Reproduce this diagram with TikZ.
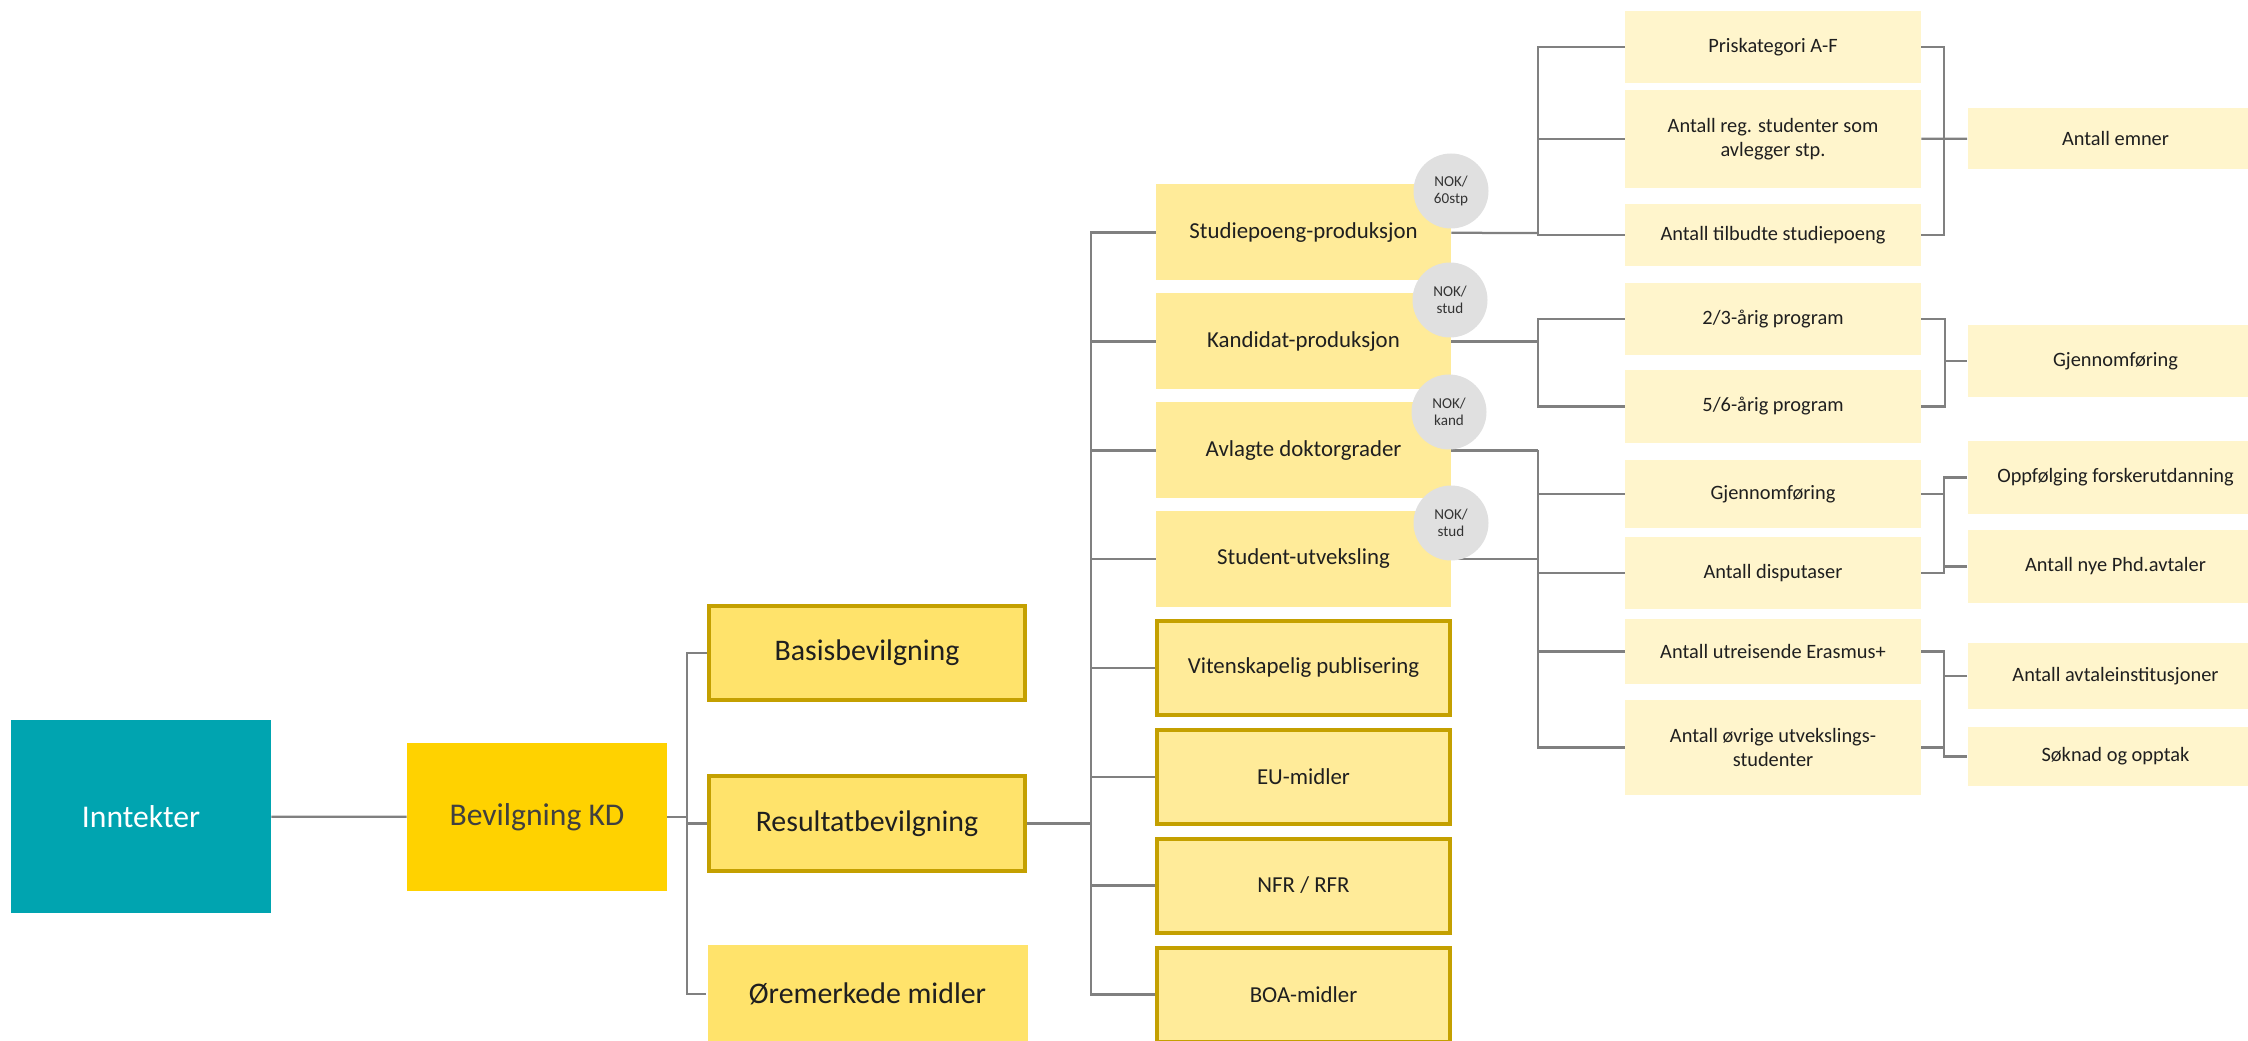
\documentclass[tikz,border=0pt]{standalone}
\usepackage{fontspec}
\setmainfont{Carlito}
\usepackage{tikz}
\usepackage{xcolor}

\definecolor{inntekt}{RGB}{0,164,176}
\definecolor{kdgul}{RGB}{255,210,0}
\definecolor{gul}{RGB}{255,227,107}
\definecolor{lysgul}{RGB}{255,235,153}
\definecolor{blek}{RGB}{255,245,204}
\definecolor{kant}{RGB}{196,160,0}
\definecolor{linje}{RGB}{128,128,128}
\definecolor{sirkel}{RGB}{224,224,224}

\begin{document}
\begin{tikzpicture}[x=0.2mm,y=-0.2mm,
	strek/.style={draw=linje,line width=0.45mm},
	boks/.style={inner sep=0pt,align=center,text=black!88},
	topp/.style={boks,minimum width=52mm,font=\fontsize{18}{21}\selectfont},
	niva/.style={boks,fill=gul,draw=kant,line width=0.8mm,minimum width=63.2mm,minimum height=18.8mm,font=\fontsize{17}{20}\selectfont},
	ledd/.style={boks,fill=lysgul,minimum width=59mm,minimum height=19.2mm,font=\fontsize{13}{15}\selectfont},
	ramme/.style={draw=kant,line width=0.8mm,minimum width=58.6mm,minimum height=18.8mm},
	faktor/.style={boks,fill=blek,minimum width=59.2mm,font=\fontsize{11.6}{13.4}\selectfont},
	sats/.style={circle,fill=sirkel,minimum size=15mm,inner sep=0pt,align=center,text=black!80,font=\fontsize{8.6}{9.4}\selectfont}]
	\useasboundingbox (0,0) rectangle (2248,1041);
	\clip (0,0) rectangle (2248,1041);

	\node[topp,fill=inntekt,text=white,minimum height=38.6mm] (inn) at (141,816.5) {Inntekter};
	\node[topp,fill=kdgul,text=black!75,minimum height=29.6mm] (kd) at (537,817) {Bevilgning KD};

	\node[niva] (basis) at (867,653) {Basisbevilgning};
	\node[niva] (res) at (867,823.5) {Resultatbevilgning};
	\node[niva,draw=none,minimum width=64mm,minimum height=19.6mm] (ore) at (867.5,994) {Øremerkede midler};

	\node[ledd] (stp) at (1303.5,232.5) {Studiepoeng-produksjon};
	\node[ledd] (kand) at (1303.5,341.5) {Kandidat-produksjon};
	\node[ledd] (dr) at (1303.5,450.5) {Avlagte doktorgrader};
	\node[ledd] (utv) at (1303.5,559) {Student-utveksling};
	\node[ledd,ramme] (pub) at (1303.5,668) {Vitenskapelig publisering};
	\node[ledd,ramme] (eu) at (1303.5,777) {EU-midler};
	\node[ledd,ramme] (nfr) at (1303.5,885.5) {NFR / RFR};
	\node[ledd,ramme] (boa) at (1303.5,994.5) {BOA-midler};

	\node[faktor,minimum height=14.4mm] (pris) at (1773,47) {Priskategori A-F};
	\node[faktor,minimum height=19.6mm] (reg) at (1773,139) {Antall reg. studenter som\\avlegger stp.};
	\node[faktor,minimum height=12.4mm] (tilb) at (1773,235) {Antall tilbudte studiepoeng};
	\node[faktor,minimum height=14.4mm] (ar23) at (1773,319) {2/3-årig program};
	\node[faktor,minimum height=14.6mm] (ar56) at (1773,406.5) {5/6-årig program};
	\node[faktor,minimum height=13.6mm] (gjf) at (1773,494) {Gjennomføring};
	\node[faktor,minimum height=14.4mm] (disp) at (1773,573) {Antall disputaser};
	\node[faktor,minimum height=13mm] (eras) at (1773,651.5) {Antall utreisende Erasmus+};
	\node[faktor,minimum height=19mm] (ovr) at (1773,747.5) {Antall øvrige utvekslings-\\studenter};

	\node[faktor,minimum height=12.2mm] (emner) at (2115.5,138.5) {Antall emner};
	\node[faktor,minimum height=14.4mm] (gjf2) at (2115.5,361) {Gjennomføring};
	\node[faktor,minimum height=14.6mm] (opp) at (2115.5,477.5) {Oppfølging forskerutdanning};
	\node[faktor,minimum height=14.6mm] (phd) at (2115.5,566.5) {Antall nye Phd.avtaler};
	\node[faktor,minimum height=13.2mm] (avt) at (2115.5,676) {Antall avtaleinstitusjoner};
	\node[faktor,minimum height=11.8mm] (sok) at (2115.5,756.5) {Søknad og opptak};

	\coordinate (k1) at (687,817);
	\coordinate (k2) at (1091,823.5);
	\coordinate (k3) at (1538,233);
	\coordinate (k4) at (1538,341.5);
	\coordinate (k5) at (1538,450.5);
	\coordinate (k6) at (1538,559);
	\coordinate (k7) at (1944,139);
	\coordinate (k8) at (1945,361);
	\coordinate (k9) at (1944,494);
	\coordinate (k10) at (1944,676);

	\draw[strek] (inn) -- (kd);
	\draw[strek] (kd) -- (k1);
	\draw[strek] (basis) -| (k1) |- (ore);
	\draw[strek] (res) -- (res -| k1);
	\draw[strek] (res) -- (k2);
	\draw[strek] (stp) -| (k2) |- (boa);
	\foreach \n in {kand,dr,utv,pub,eu,nfr}
		\draw[strek] (\n) -- (\n -| k2);

	\draw[strek] (stp) -- (k3);
	\draw[strek] (pris) -| (k3) |- (tilb);
	\draw[strek] (reg) -- (reg -| k3);
	\draw[strek] (kand) -- (k4);
	\draw[strek] (ar23) -| (k4) |- (ar56);
	\draw[strek] (dr) -- (k5);
	\draw[strek] (utv) -- (k6);
	\draw[strek] (k5) |- (ovr);
	\foreach \n in {gjf,disp,eras}
		\draw[strek] (\n) -- (\n -| k5);

	\draw[strek] (pris) -| (k7) |- (tilb);
	\draw[strek] (reg) -- (emner);
	\draw[strek] (ar23) -| (k8) |- (ar56);
	\draw[strek] (k8) -- (gjf2);
	\draw[strek] (opp) -| (k9) |- (disp);
	\draw[strek] (gjf) -- (k9);
	\draw[strek] (phd) -- (phd -| k9);
	\draw[strek] (eras) -| (k10) |- (sok);
	\draw[strek] (avt) -- (k10);
	\draw[strek] (ovr) -- (ovr -| k10);

	\node[sats] (s1) at (1451,191) {NOK/\\60stp};
	\node[sats] (s2) at (1450,300) {NOK/\\stud};
	\node[sats] (s3) at (1449,412) {NOK/\\kand};
	\node[sats] (s4) at (1451,523) {NOK/\\stud};
\end{tikzpicture}
\end{document}
